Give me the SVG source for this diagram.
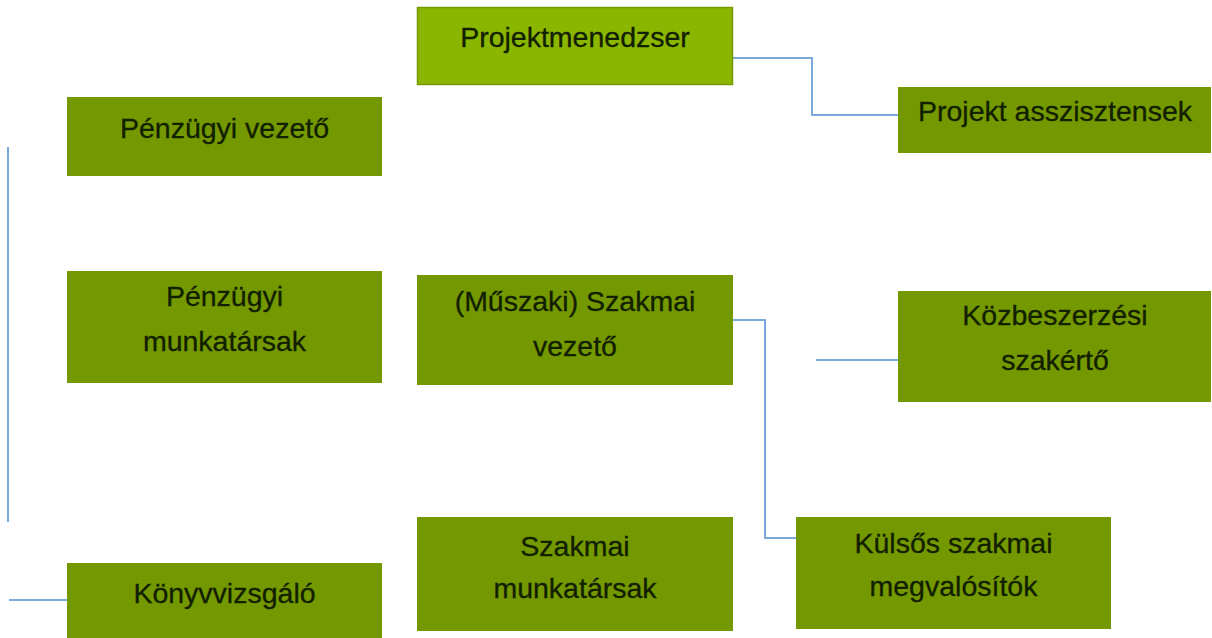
<svg xmlns="http://www.w3.org/2000/svg" width="1212" height="638" viewBox="0 0 1212 638">
<style>
.box{fill:#739800;}
.top{fill:#8bb600;stroke:#749a00;stroke-width:1.5;}
.t{font-family:"Liberation Sans",Arial,sans-serif;font-size:28.5px;fill:#122000;stroke:#122000;stroke-width:0.3;text-anchor:middle;}
.c{fill:none;stroke:#7aaadc;stroke-width:2;}
</style>
<rect width="1212" height="638" fill="#ffffff"/>
<g id="connectors">
<polyline class="c" points="733,58 812,58 812,115 898,115"/>
<line class="c" x1="8" y1="147" x2="8" y2="522"/>
<line class="c" x1="9" y1="600" x2="67" y2="600"/>
<polyline class="c" points="733,320 765,320 765,538 796,538"/>
<line class="c" x1="816" y1="360" x2="898" y2="360"/>
</g>
<g id="projektmenedzser">
<rect class="top" x="417.5" y="7.5" width="315" height="77"/>
<text class="t" x="575" y="47">Projektmenedzser</text>
</g>
<g id="projekt-asszisztensek">
<rect class="box" x="898" y="87" width="313" height="66"/>
<text class="t" x="1055" y="121">Projekt asszisztensek</text>
</g>
<g id="penzugyi-vezeto">
<rect class="box" x="67" y="97" width="315" height="79"/>
<text class="t" x="224.5" y="138">Pénzügyi vezető</text>
</g>
<g id="penzugyi-munkatarsak">
<rect class="box" x="67" y="271" width="315" height="112"/>
<text class="t" x="224.5" y="306">Pénzügyi</text>
<text class="t" x="224.5" y="351">munkatársak</text>
</g>
<g id="szakmai-vezeto">
<rect class="box" x="417" y="275" width="316" height="110"/>
<text class="t" x="575" y="311">(Műszaki) Szakmai</text>
<text class="t" x="575" y="356">vezető</text>
</g>
<g id="kozbeszerzesi-szakerto">
<rect class="box" x="898" y="291" width="313" height="111"/>
<text class="t" x="1055" y="325">Közbeszerzési</text>
<text class="t" x="1055" y="370">szakértő</text>
</g>
<g id="szakmai-munkatarsak">
<rect class="box" x="417" y="517" width="316" height="114"/>
<text class="t" x="575" y="556">Szakmai</text>
<text class="t" x="575" y="598">munkatársak</text>
</g>
<g id="kulsos-szakmai-megvalositok">
<rect class="box" x="796" y="517" width="315" height="112"/>
<text class="t" x="953.5" y="553">Külsős szakmai</text>
<text class="t" x="953.5" y="596">megvalósítók</text>
</g>
<g id="konyvvizsgalo">
<rect class="box" x="67" y="563" width="315" height="75"/>
<text class="t" x="224.5" y="603">Könyvvizsgáló</text>
</g>
</svg>
